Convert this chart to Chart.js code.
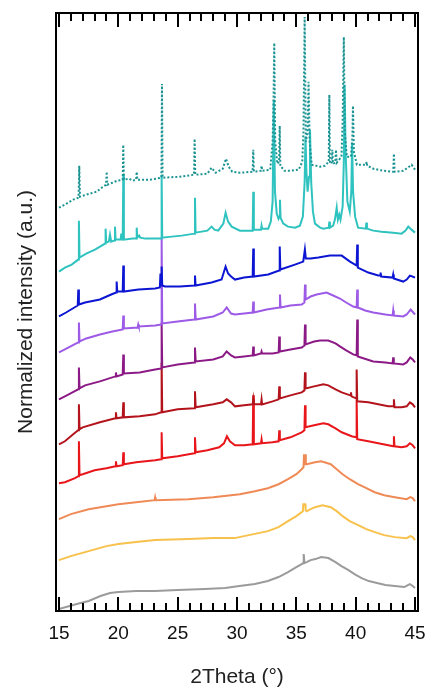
<!DOCTYPE html>
<html>
<head>
<meta charset="utf-8">
<script src="https://cdn.jsdelivr.net/npm/chart.js@4.4.0/dist/chart.umd.min.js"></script>
<style>
  html, body { margin: 0; padding: 0; background: #fff; }
</style>
</head>
<body>
<canvas id="xrd" width="429" height="688"></canvas>
<script>
// 2theta (deg) vs stacked normalized intensity (a.u.), top curve first

var xTicks = [15, 20, 25, 30, 35, 40, 45];

var tealDotted = [[15.0,404],[15.5,407],[16.2,412],[16.65,414],[16.71,446],[16.77,415],[17.3,417],[18.17,420],[18.6,424],[18.97,427],[19.02,440],[19.07,427],[19.5,429],[19.91,431],[20.37,432],[20.42,467],[20.47,432],[20.9,433],[21.2,431],[21.5,432],[21.55,440],[21.6,432],[22.67,432],[23.63,434],[23.68,528],[23.73,434],[25.19,435],[26.38,437],[26.43,473],[26.48,437],[27.5,438],[27.86,444],[28.2,439],[28.8,443],[29.07,453],[29.3,445],[29.6,440],[30.25,439],[31.32,440],[31.37,462],[31.42,440],[32.02,441],[32.07,446],[32.12,441],[32.8,442],[33.0,470],[33.08,512],[33.14,569],[33.22,470],[33.4,448],[33.55,450],[33.6,486],[33.65,446],[34.0,441],[34.5,441],[35.2,442],[35.5,450],[35.6,480],[35.7,595],[35.8,470],[35.95,480],[36.03,530],[36.12,470],[36.3,447],[37.0,445],[37.4,446],[37.73,450],[37.78,517],[37.83,450],[37.98,448],[38.03,462],[38.08,448],[38.28,449],[38.34,462],[38.4,449],[38.8,455],[38.9,490],[39.0,575],[39.08,480],[39.25,455],[39.6,455],[39.72,475],[39.77,506],[39.85,460],[40.1,447],[40.53,447],[40.87,447],[40.92,450],[40.97,446],[41.5,443],[42.3,441],[43.16,440],[43.22,458],[43.28,440],[44.0,441],[44.4,444],[44.71,447],[44.9,444],[45.0,442]];

var turquoise = [[15.0,340],[15.5,344],[16.07,347],[16.4,350],[16.63,352],[16.68,391],[16.73,354],[17.3,358],[18.03,362],[18.6,366],[18.88,368],[18.93,383],[18.98,369],[19.2,370],[19.3,377],[19.4,370],[19.67,371],[19.72,385],[19.77,372],[20.2,372],[20.25,378],[20.3,372],[20.37,372],[20.42,437],[20.47,372],[21.2,373],[21.5,373],[21.55,384],[21.6,374],[21.75,376],[21.85,374],[22.25,373],[23.1,373],[23.6,373],[23.65,437],[23.7,374],[24.5,375],[25.34,376],[26.41,378],[26.46,414],[26.51,379],[27.5,381],[27.86,385],[28.1,382],[28.42,381],[28.85,388],[29.04,399],[29.25,390],[29.55,385],[30.25,381],[31.0,381],[31.32,381],[31.37,420],[31.42,382],[32.02,382],[32.07,386],[32.12,383],[32.63,383],[32.85,390],[33.0,410],[33.1,512],[33.2,420],[33.35,398],[33.5,393],[33.57,395],[33.62,412],[33.67,394],[33.9,388],[34.3,385],[34.9,384],[35.3,386],[35.55,395],[35.7,430],[35.77,475],[35.85,440],[35.95,420],[36.07,435],[36.15,482],[36.25,430],[36.4,400],[36.57,388],[37.0,384],[37.27,383],[37.73,384],[37.78,390],[37.83,384],[38.1,386],[38.25,392],[38.4,404],[38.5,392],[38.62,397],[38.72,392],[38.9,405],[39.0,450],[39.07,527],[39.15,460],[39.3,410],[39.5,400],[39.63,420],[39.7,469],[39.78,420],[39.95,395],[40.2,384],[40.85,383],[40.9,389],[40.95,383],[41.48,381],[42.18,380],[43.16,379],[43.87,378],[44.2,381],[44.43,385],[44.7,382],[45.0,379]];

var blue = [[15.0,295],[15.6,299],[16.3,304],[16.58,306],[16.63,322],[16.68,307],[17.2,309],[18.45,312],[19.4,317],[19.81,319],[19.86,330],[19.91,320],[20.37,320],[20.42,346],[20.47,320],[21.7,322],[23.1,323],[23.5,324],[23.55,338],[23.6,326],[23.65,345],[23.7,326],[23.93,325],[25.2,325],[26.41,326],[26.46,336],[26.51,326],[27.86,329],[28.7,332],[29.04,345],[29.25,338],[29.5,335],[29.83,332],[30.6,334],[31.32,335],[31.37,363],[31.42,335],[32.63,337],[33.55,341],[33.6,365],[33.65,342],[34.88,347],[35.58,350],[35.72,362],[35.8,353],[36.2,353],[36.85,354],[37.83,356],[38.82,356],[39.52,350],[40.08,346],[40.13,367],[40.18,344],[41.06,339],[41.9,336],[42.05,336],[42.1,339],[42.15,335],[43.11,334],[43.16,337],[43.21,333],[44.0,330],[44.3,332],[44.57,336],[44.8,335],[45.0,334]];

var lightPurple = [[15.0,259],[15.5,262],[16.3,267],[16.62,269],[16.68,289],[16.73,270],[17.3,273],[18.45,277],[19.5,280],[20.37,282],[20.42,296],[20.47,283],[21.63,284],[21.68,287],[21.73,285],[23.1,286],[23.6,287],[23.65,374],[23.7,288],[25.0,290],[26.4,292],[26.46,308],[26.52,292],[28.0,295],[28.8,299],[29.13,304],[29.5,298],[29.83,297],[30.6,298],[31.32,299],[31.37,310],[31.42,299],[32.5,302],[33.57,304],[33.62,317],[33.67,304],[34.5,306],[35.45,307],[35.68,309],[35.73,327],[35.78,312],[36.2,315],[36.71,317],[37.55,319],[38.1,316],[38.67,313],[39.2,309],[39.79,305],[40.08,304],[40.13,322],[40.18,304],[40.8,301],[41.48,299],[42.5,297],[43.11,296],[43.16,301],[43.21,296],[44.0,295],[44.3,297],[44.63,302],[44.85,299],[45.0,297]];

var darkPurple = [[15.0,212],[15.5,215],[16.3,220],[16.62,222],[16.68,244],[16.73,223],[17.2,226],[18.45,230],[19.75,235],[19.8,239],[19.85,235],[20.37,237],[20.42,257],[20.47,238],[21.8,239],[23.1,242],[23.6,243],[23.65,289],[23.7,244],[25.0,247],[26.4,249],[26.46,264],[26.52,250],[28.0,252],[28.8,255],[29.13,260],[29.5,256],[29.83,254],[30.6,255],[31.32,256],[31.37,265],[31.42,256],[32.02,258],[32.07,260],[32.12,258],[33.0,258],[33.51,259],[33.56,275],[33.61,260],[34.5,262],[35.45,264],[35.68,266],[35.73,287],[35.78,267],[36.5,270],[37.0,271],[37.69,271],[38.3,268],[38.67,265],[39.2,261],[39.79,257],[40.08,256],[40.13,292],[40.18,255],[41.48,250],[42.5,249],[43.11,248],[43.16,254],[43.21,248],[44.0,247],[44.3,249],[44.6,254],[44.8,252],[45.0,249]];

var darkRed = [[15.0,167],[15.5,170],[16.3,178],[16.62,181],[16.68,207],[16.73,182],[17.0,184],[18.45,189],[19.75,193],[19.8,199],[19.85,193],[20.37,194],[20.42,209],[20.47,194],[21.8,195],[23.1,197],[23.6,199],[23.65,249],[23.7,199],[25.0,202],[26.4,203],[26.46,220],[26.52,204],[28.0,207],[28.8,209],[29.13,212],[29.5,209],[29.83,205],[30.6,206],[31.32,207],[31.37,212],[31.42,207],[32.02,207],[32.07,212],[32.12,207],[33.0,210],[33.51,212],[33.56,225],[33.61,213],[34.5,216],[35.45,219],[35.68,221],[35.73,239],[35.78,223],[36.5,225],[37.27,227],[37.69,226],[38.3,222],[38.82,219],[39.55,216],[39.6,219],[39.65,215],[40.03,213],[40.08,242],[40.13,210],[41.06,209],[41.9,207],[42.74,205],[43.17,205],[43.22,212],[43.27,204],[43.87,204],[44.3,205],[44.57,209],[44.8,207],[45.0,204]];

var red = [[15.0,128],[15.5,129],[16.35,133],[16.63,135],[16.68,170],[16.73,136],[17.0,137],[18.0,141],[19.0,143],[19.75,145],[19.8,150],[19.85,145],[20.37,146],[20.42,159],[20.47,147],[21.5,149],[23.1,151],[23.6,152],[23.65,179],[23.7,153],[25.0,155],[26.4,158],[26.46,174],[26.52,159],[27.5,161],[28.5,164],[28.9,168],[29.15,175],[29.4,170],[29.83,166],[30.6,166],[31.32,167],[31.37,216],[31.42,167],[32.02,168],[32.07,172],[32.12,168],[33.0,169],[33.51,170],[33.56,181],[33.61,171],[34.5,174],[35.45,179],[35.68,181],[35.73,206],[35.78,184],[36.5,186],[37.27,188],[37.69,187],[38.3,183],[38.82,179],[39.66,175],[40.03,174],[40.08,212],[40.13,172],[41.06,170],[41.9,168],[42.74,166],[43.17,165],[43.22,175],[43.27,165],[43.87,164],[44.3,165],[44.57,168],[44.8,166],[45.0,163]];

var orange = [[15.0,92],[16.0,97],[17.5,102],[19.0,105],[20.0,107],[21.5,109],[23.05,111],[23.1,114],[23.15,111],[25.9,112],[28.0,114],[30.25,117],[31.5,120],[32.6,123],[33.5,127],[34.3,132],[35.0,137],[35.45,142],[35.6,144],[35.65,157],[35.7,146],[35.75,157],[35.8,147],[35.87,147],[36.57,149],[37.1,150],[37.9,147],[38.4,142],[38.9,137],[39.5,132],[40.2,127],[40.9,123],[41.6,119],[42.4,116],[43.3,114],[44.3,112],[44.6,114],[44.8,113],[45.0,110]];

var yellow = [[15.0,51],[16.0,55],[17.5,60],[19.0,65],[20.0,67],[21.5,69],[23.1,71],[25.9,72],[28.0,73],[29.8,73],[31.0,76],[32.6,80],[33.5,84],[34.3,90],[35.0,95],[35.45,99],[35.55,100],[35.58,107],[35.75,107],[35.78,101],[35.87,100],[36.2,102],[36.57,104],[37.2,106],[37.9,104],[38.4,100],[38.9,95],[39.5,90],[40.2,86],[40.9,82],[41.6,79],[42.4,76],[43.3,74],[44.3,73],[44.6,75],[44.8,74],[45.0,71]];

var grey = [[15.0,2],[15.6,4],[16.5,7],[17.5,10],[18.5,15],[19.3,18],[20.0,19],[21.5,20],[23.1,20],[25.0,21],[27.3,22],[29.0,23],[30.2,25],[31.5,27],[32.6,30],[33.5,34],[34.3,39],[35.0,44],[35.45,47],[35.58,48],[35.62,57],[35.68,48],[35.87,49],[36.2,51],[36.6,52],[37.1,54],[37.7,53],[38.3,49],[38.8,45],[39.4,41],[39.9,37],[40.5,33],[41.1,30],[41.8,28],[42.5,26],[43.3,25],[44.1,24],[44.4,26],[44.57,27],[44.8,25],[45.0,23]];

function trace(data, color, dash) {
  return {
    data: data,
    borderColor: color,
    borderWidth: 2,
    borderDash: dash || [],
    pointRadius: 0,
    tension: 0,
    fill: false
  };
}

// box around the plot plus inward ticks on top and bottom
var frame = {
  id: 'frame',
  afterDraw: function(chart) {
    var ctx = chart.ctx, a = chart.chartArea, xs = chart.scales.x;
    ctx.save();
    ctx.strokeStyle = '#000';
    ctx.lineWidth = 2;
    ctx.strokeRect(a.left, a.top, a.right - a.left, a.bottom - a.top);
    ctx.beginPath();
    for (var v = 15; v <= 45; v++) {
      var px = Math.round(xs.getPixelForValue(v));
      var len = v % 5 === 0 ? 14 : 8;
      ctx.moveTo(px, a.bottom); ctx.lineTo(px, a.bottom - len);
      ctx.moveTo(px, a.top); ctx.lineTo(px, a.top + len);
    }
    ctx.stroke();
    ctx.restore();
  }
};

var chart = new Chart(document.getElementById('xrd').getContext('2d'), {
  type: 'line',
  data: {
    datasets: [
      trace(tealDotted, '#1c9393', [2, 2]),
      trace(turquoise, '#2fc3c0'),
      trace(blue, '#0c16d2'),
      trace(lightPurple, '#9d5ae6'),
      trace(darkPurple, '#8c1a86'),
      trace(darkRed, '#b3141c'),
      trace(red, '#e8161b'),
      trace(orange, '#ef8a56'),
      trace(yellow, '#f7c14c'),
      trace(grey, '#9b9b9b')
    ]
  },
  options: {
    responsive: false,
    animation: false,
    layout: { padding: { left: 5, right: 11, top: 13, bottom: 0 } },
    plugins: { legend: { display: false }, tooltip: { enabled: false } },
    scales: {
      x: {
        type: 'linear',
        min: 14.75,
        max: 45.25,
        afterBuildTicks: function(scale) {
          scale.ticks = xTicks.map(function(v) { return { value: v }; });
        },
        afterFit: function(scale) {
          // edge labels fit inside the outer padding already
          scale.paddingLeft = 0;
          scale.paddingRight = 0;
        },
        ticks: {
          autoSkip: false,
          maxRotation: 0,
          padding: 13,
          color: '#111',
          font: { family: 'Liberation Sans', size: 19, lineHeight: 1 }
        },
        grid: { display: false, drawTicks: false },
        border: { display: false },
        title: {
          display: true,
          text: '2Theta (°)',
          color: '#222',
          padding: { top: 11, bottom: 0 },
          font: { family: 'Liberation Sans', size: 21, lineHeight: 1 }
        }
      },
      y: {
        type: 'linear',
        min: 0,
        max: 599,
        ticks: { display: false },
        grid: { display: false, drawTicks: false },
        border: { display: false },
        title: {
          display: true,
          text: 'Normalized intensity (a.u.)',
          color: '#222',
          padding: { top: 11, bottom: 19 },
          font: { family: 'Liberation Sans', size: 21, lineHeight: 1 }
        }
      }
    }
  },
  plugins: [frame]
});
</script>
</body>
</html>
